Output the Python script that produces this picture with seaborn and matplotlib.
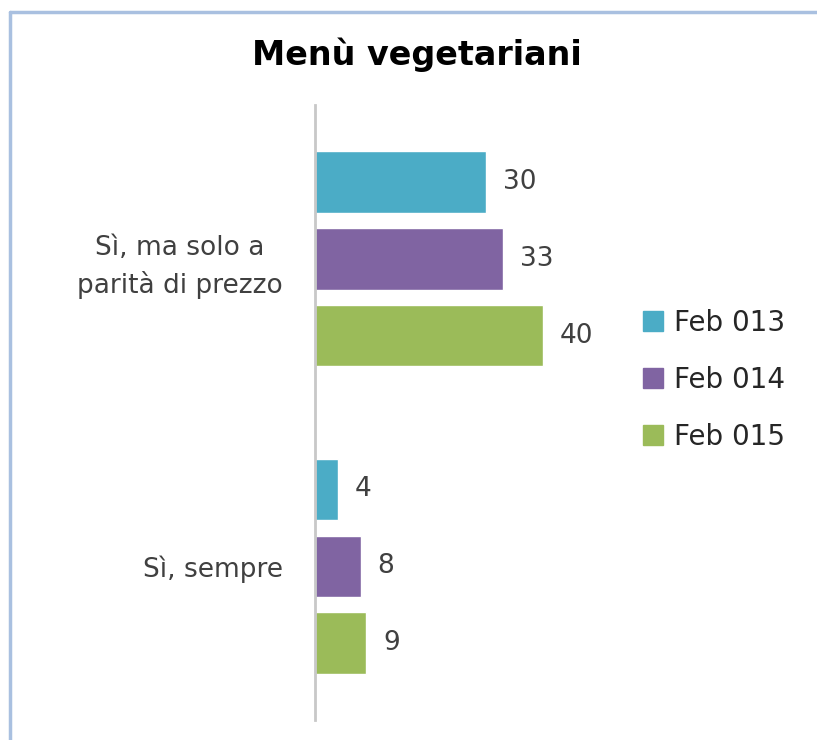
import pandas as pd
import seaborn as sns
from matplotlib import pyplot as plt
from matplotlib.lines import Line2D

categories = ['Sì, ma solo a\nparità di prezzo', 'Sì, sempre']
series = ['Feb 013', 'Feb 014', 'Feb 015']
feb_013 = [30, 4]
feb_014 = [33, 8]
feb_015 = [40, 9]
colors = ['#4bacc6', '#8064a2', '#9bbb59']

rows = []
for s, vals in zip(series, [feb_013, feb_014, feb_015]):
    for c, v in zip(categories, vals):
        rows.append({'categoria': c, 'serie': s, 'valore': v})
df = pd.DataFrame(rows)

sns.set_style('white')
plt.rcParams['font.family'] = ['DejaVu Sans']

fig = plt.figure(figsize=(8.17, 7.4), dpi=100)
ax = fig.add_axes([315 / 817, 1 - 720 / 740, 297 / 817, 615 / 740])

sns.barplot(data=df, y='categoria', x='valore', hue='serie', orient='h',
            palette=colors, width=0.75, gap=0.2, saturation=1,
            order=categories, hue_order=series, ax=ax, legend=False)

for cont in ax.containers:
    ax.bar_label(cont, padding=12, fontsize=19, color='#404040')

ax.set_xlim(0, 52)
ax.set_ylim(1.5, -0.5)
ax.set_xlabel('')
ax.set_ylabel('')
ax.set_xticks([])
for side in ['top', 'right', 'bottom']:
    ax.spines[side].set_visible(False)
ax.spines['left'].set_color('#c8c8c8')
ax.spines['left'].set_linewidth(2)
ax.tick_params(axis='y', length=0, pad=23, labelsize=19, labelcolor='#404040')
for lbl in ax.get_yticklabels():
    lbl.set_multialignment('center')
    lbl.set_linespacing(1.45)

handles = [Line2D([], [], marker='s', linestyle='', markersize=14,
                  markerfacecolor=c, markeredgecolor=c) for c in colors]
fig.legend(handles, series, loc='center left',
           bbox_to_anchor=(617 / 817, 1 - 380 / 740), frameon=False,
           fontsize=20, labelspacing=1.05, handlelength=0.8,
           handletextpad=0.35, labelcolor='#262626')

fig.text(417 / 817, 1 - 55 / 740, 'Menù vegetariani', ha='center', va='center',
         fontsize=24, fontweight='bold', color='black')

# cornice del grafico
fig.add_artist(Line2D([10 / 817, 1], [1 - 12 / 740, 1 - 12 / 740],
                      transform=fig.transFigure, color='#a9c0e0', lw=2.5))
fig.add_artist(Line2D([10 / 817, 10 / 817], [0, 1 - 12 / 740],
                      transform=fig.transFigure, color='#a9c0e0', lw=2.5))

fig.savefig('out.png', dpi=100)
